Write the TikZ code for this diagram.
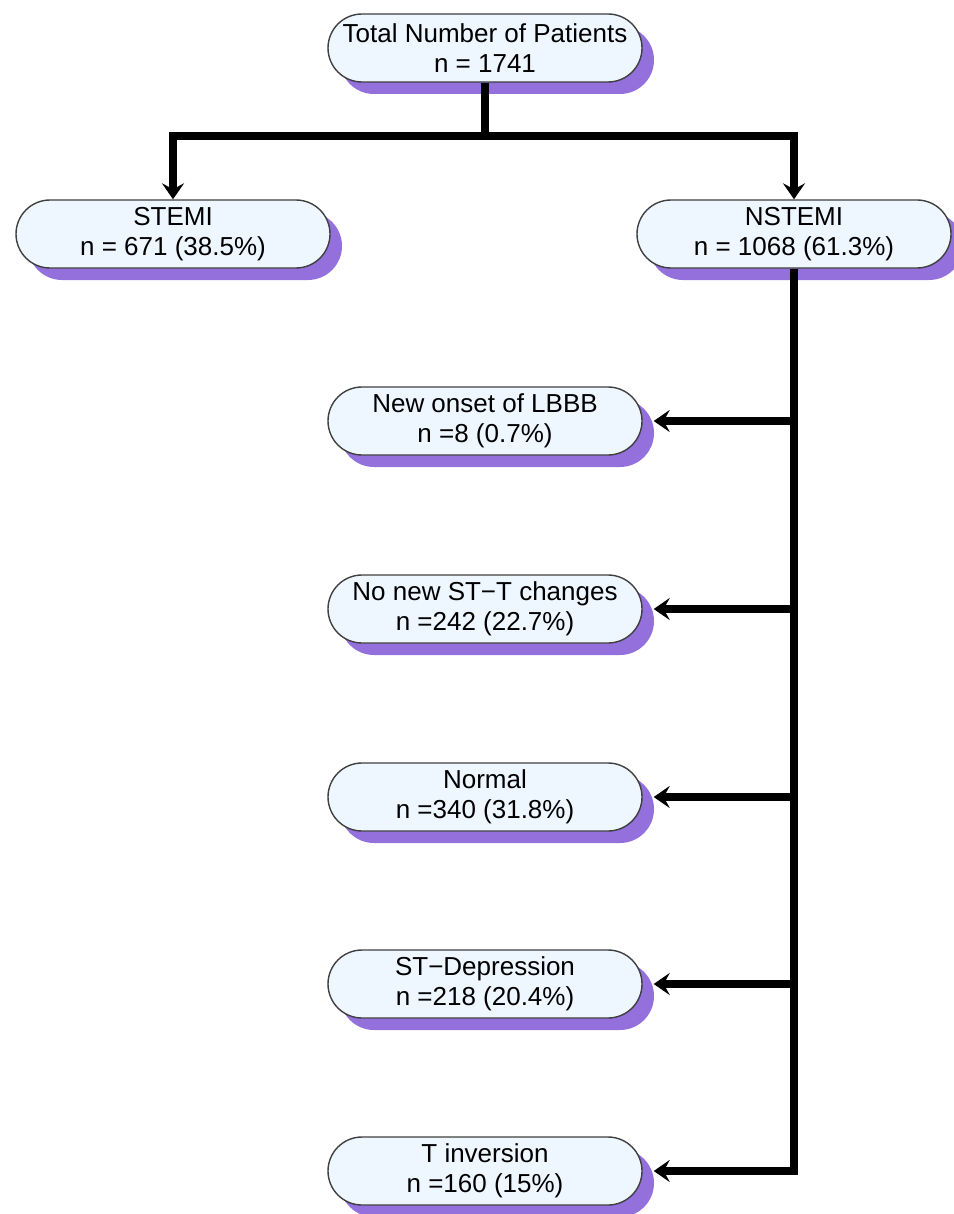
\documentclass[tikz,border=0pt]{standalone}
\usepackage{fontspec}
\setmainfont{Liberation Sans}
\usepackage{tikz}
\usetikzlibrary{arrows.meta, shadows, positioning}
\definecolor{boxfill}{RGB}{238,246,255}
\definecolor{shadowpurple}{RGB}{147,112,219}
\tikzset{>={Stealth[length=8pt,width=11pt,inset=3pt]}}
\begin{document}
\begin{tikzpicture}[x=0.5pt, y=-0.5pt, line width=4pt,
    pbox/.style={draw=black!75, line width=0.7pt, fill=boxfill, rounded corners=17pt,
        minimum width=157pt, minimum height=34pt, inner sep=0pt, align=center,
        font=\fontsize{13}{15}\selectfont,
        drop shadow={shadow xshift=6pt, shadow yshift=-6pt, fill=shadowpurple, opacity=1}}]
            \useasboundingbox (0,0) rectangle (953,1214);
            \node[pbox] (T) at (485,48) {Total Number of Patients\\n = 1741};
            \node[pbox] (S) at (173,234) {STEMI\\n = 671 (38.5\%)};
            \node[pbox] (N) at (794,234) {NSTEMI\\n = 1068 (61.3\%)};
            \node[pbox] (C1) at (485,421) {New onset of LBBB\\n =8 (0.7\%)};
            \node[pbox] (C2) at (485,609) {No new ST−T changes\\n =242 (22.7\%)};
            \node[pbox] (C3) at (485,797) {Normal\\n =340 (31.8\%)};
            \node[pbox] (C4) at (485,984) {ST−Depression\\n =218 (20.4\%)};
            \node[pbox] (C5) at (485,1171) {T inversion\\n =160 (15\%)};
            \coordinate (split) at (485,136);
            \draw (T)--(split);
            \draw [->] (split)-|(S);
            \draw [->] (split)-|(N);
            \draw [->] (N.south)|-([xshift=5.5pt]C5.east);
            \foreach \c in {C1,C2,C3,C4}
                \draw [->] (N.south|-\c.east)--([xshift=5.5pt]\c.east);
\end{tikzpicture}
\end{document}
